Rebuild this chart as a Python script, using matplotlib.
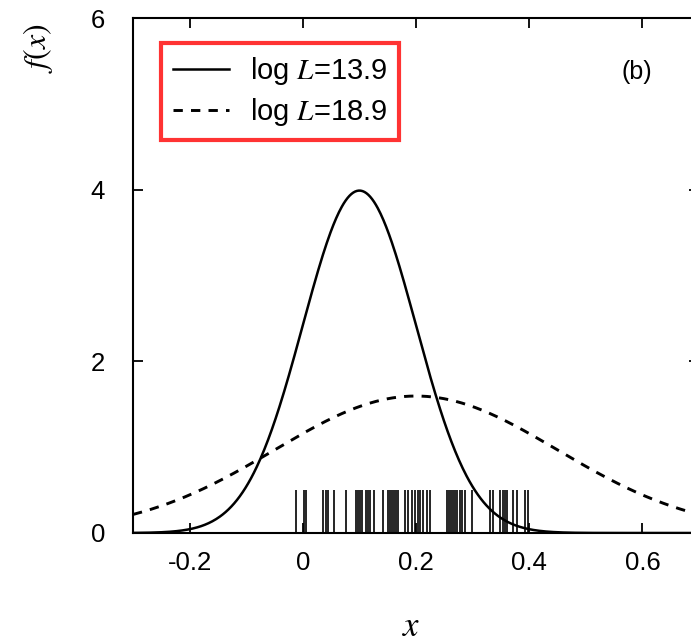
import numpy as np
import matplotlib
matplotlib.use('Agg')
import matplotlib.pyplot as plt

plt.rcParams['font.family'] = ['Liberation Sans', 'DejaVu Sans']
plt.rcParams['mathtext.fontset'] = 'stix'

# fitted gaussians: mean, sigma
mu_a, sig_a = 0.10, 0.10    # log L = 13.9
mu_b, sig_b = 0.20, 0.25    # log L = 18.9
labels = ['log $L$=13.9', 'log $L$=18.9']

# sample positions (rug)
samples = [-0.012, 0.002, 0.005, 0.035, 0.041, 0.044, 0.055, 0.076, 0.094, 0.097,
           0.101, 0.104, 0.112, 0.115, 0.119, 0.126, 0.142, 0.150, 0.154, 0.158,
           0.161, 0.165, 0.168, 0.181, 0.186, 0.193, 0.198, 0.204, 0.207, 0.212,
           0.219, 0.225, 0.255, 0.258, 0.262, 0.265, 0.269, 0.273, 0.278, 0.281,
           0.287, 0.299, 0.331, 0.336, 0.349, 0.354, 0.358, 0.361, 0.372, 0.379,
           0.393, 0.398]


def gauss(x, m, s):
    return np.exp(-0.5 * ((x - m) / s) ** 2) / (s * np.sqrt(2 * np.pi))


W, H = 691, 642
fig = plt.figure(figsize=(W / 100, H / 100), dpi=100)
ax = fig.add_axes([133 / W, (H - 533) / H, 566 / W, 515 / H])

x = np.linspace(-0.3, 0.7, 600)
ax.plot(x, gauss(x, mu_a, sig_a), color='black', lw=1.8, label=labels[0])
ax.plot(x, gauss(x, mu_b, sig_b), color='black', lw=2.1, dashes=(3.2, 2.8), label=labels[1])
ax.vlines(samples, 0, 0.5, color='black', lw=1.2)

ax.set_xlim(-0.3, 0.7)
ax.set_ylim(0, 6)
ax.set_xticks([-0.2, 0, 0.2, 0.4, 0.6])
ax.set_xticklabels(['-0.2', '0', '0.2', '0.4', '0.6'])
ax.set_yticks([0, 2, 4, 6])
ax.tick_params(direction='in', length=7, width=1.3, labelsize=18.5,
               top=True, right=True)
ax.tick_params(axis='x', pad=13)
ax.tick_params(axis='y', pad=20)
for sp in ax.spines.values():
    sp.set_linewidth(1.5)

fig.text(38 / W, 1 - 48 / H, '$f(x)$', rotation=90, fontsize=23,
         ha='center', va='center')
fig.text(411 / W, 1 - 626 / H, '$x$', fontsize=25, ha='center', va='center')
ax.text(0.59, 5.37, '(b)', fontsize=18, ha='center', va='center')

leg = ax.legend(loc='upper left', bbox_to_anchor=(161 / W, 1 - 43 / H),
                bbox_transform=fig.transFigure, fontsize=21, frameon=True,
                fancybox=False, handlelength=1.9, handletextpad=0.72,
                labelspacing=0.3, borderpad=0.42, borderaxespad=0)
leg.get_frame().set_edgecolor('red')
leg.get_frame().set_linewidth(3)

fig.savefig('out.png', dpi=100)
